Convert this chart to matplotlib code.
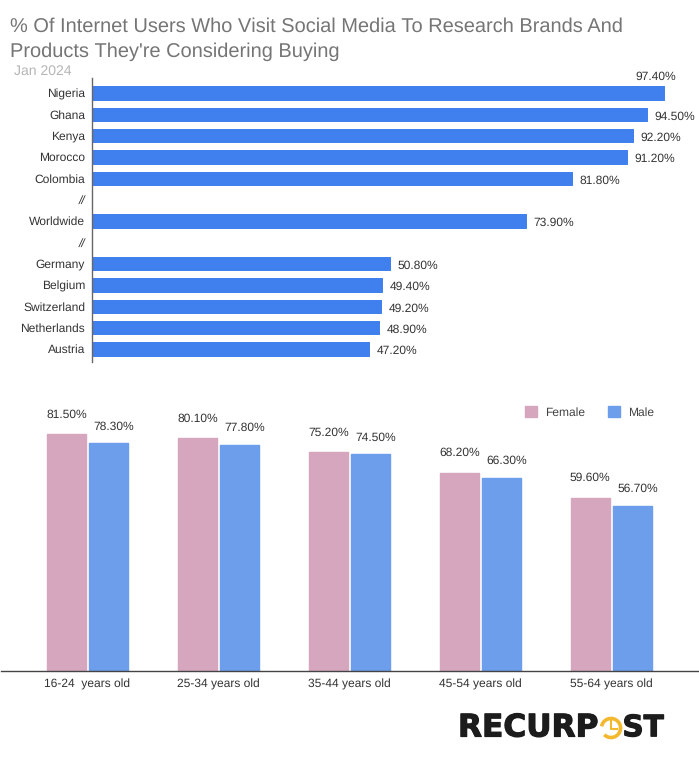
import matplotlib
matplotlib.use("Agg")
import matplotlib.pyplot as plt
from matplotlib.patches import Arc
import matplotlib.patheffects as pe

plt.rcParams['font.family'] = ['Liberation Sans', 'DejaVu Sans']
plt.rcParams['text.hinting'] = 'no_hinting'
plt.rcParams['text.hinting_factor'] = 1

TITLE = "% Of Internet Users Who Visit Social Media To Research Brands And\nProducts They're Considering Buying"
SUBTITLE = "Jan 2024"
countries = ["Nigeria", "Ghana", "Kenya", "Morocco", "Colombia", "//", "Worldwide", "//",
             "Germany", "Belgium", "Switzerland", "Netherlands", "Austria"]
country_values = [97.4, 94.5, 92.2, 91.2, 81.8, None, 73.9, None, 50.8, 49.4, 49.2, 48.9, 47.2]
age_groups = ["16-24  years old", "25-34 years old", "35-44 years old", "45-54 years old", "55-64 years old"]
female = [81.5, 80.1, 75.2, 68.2, 59.6]
male = [78.3, 77.8, 74.5, 66.3, 56.7]

W, H = 699, 768
PX = 0.72
LABEL = 12.05 * PX
fig = plt.figure(figsize=(W / 100, H / 100), dpi=100, facecolor='white')

def box(l, t, r, b):
    return [l / W, 1 - b / H, (r - l) / W, (b - t) / H]

title_lines = TITLE.split("\n")
fig.text(10 / W, 1 - 27 / H, title_lines[0], fontsize=20.3 * PX, color='#757575', va='center', ha='left')
fig.text(10 / W, 1 - 52 / H, title_lines[1], fontsize=20.3 * PX, color='#757575', va='center', ha='left')
fig.text(14 / W, 1 - 71.5 / H, SUBTITLE, fontsize=14.2 * PX, color='#b5b5b5', va='center', ha='left')

# Country chart
ax = fig.add_axes(box(92, 78, 699, 362))
ax.set_xlim(0, 607 / 5.87)
ax.set_ylim(12.61, -0.703)
ys = list(range(len(countries)))
for y, v in zip(ys, country_values):
    if v is None:
        continue
    ax.barh(y, v, height=0.62, color='#3f80ee', edgecolor='#3f80ee', linewidth=0.7, joinstyle='round')
    if v > 95:
        off, va_off = (-28.5, 16)
    else:
        off, va_off = (7.5, -2)
    ax.annotate(f"{v:.2f}%", (v, y), xytext=(off * PX, va_off * PX), textcoords='offset points',
                ha='left', va='center', fontsize=LABEL, color='#333333', annotation_clip=False)
ax.set_yticks(ys)
ax.set_yticklabels(countries, fontsize=LABEL, color='#333333')
for lbl, name in zip(ax.get_yticklabels(), countries):
    if name == "//":
        lbl.set_fontstyle('italic')
ax.tick_params(axis='y', length=0, pad=5)
ax.set_xticks([])
for s in ['top', 'right', 'bottom']:
    ax.spines[s].set_visible(False)
ax.spines['left'].set_color('#666666')
ax.spines['left'].set_linewidth(1)

# Age chart
bx = fig.add_axes(box(1, 395, 699, 670.5))
bx.set_xlim(-0.659, 4.669)
bx.set_ylim(0, 275.5 / 2.9)
xs = list(range(len(age_groups)))
BW, OFF = 38.5 / 131, 21 / 131
f_pos = [x - OFF for x in xs]
m_pos = [x + OFF for x in xs]
bx.bar(f_pos, female, width=BW, color='#d5a6bd', edgecolor='#d5a6bd', linewidth=1, joinstyle='round', label='Female')
bx.bar(m_pos, male, width=BW, color='#6d9eeb', edgecolor='#6d9eeb', linewidth=1, joinstyle='round', label='Male')
for x, v in zip(f_pos, female):
    bx.annotate(f"{v:.2f}%", (x, v), xytext=(0, 19.5 * PX), textcoords='offset points', ha='center', va='center',
                fontsize=LABEL, color='#333333')
for x, v in zip(m_pos, male):
    bx.annotate(f"{v:.2f}%", (x, v), xytext=(5.5 * PX, 17 * PX), textcoords='offset points', ha='center', va='center',
                fontsize=LABEL, color='#333333')
bx.set_xticks(xs)
bx.set_xticklabels(age_groups, fontsize=LABEL, color='#333333')
bx.tick_params(axis='x', length=0, pad=6)
bx.set_yticks([])
for s in ['top', 'right', 'left']:
    bx.spines[s].set_visible(False)
bx.spines['bottom'].set_color('#444444')
bx.spines['bottom'].set_linewidth(1)
bx.legend(loc='center left', bbox_to_anchor=(525 / W, 1 - 412 / H), bbox_transform=fig.transFigure,
          ncol=2, frameon=False, fontsize=LABEL, labelcolor='#444444', handlelength=1.0, handleheight=1.0,
          handletextpad=0.62, columnspacing=1.95, borderpad=0, borderaxespad=0)

# Logo
lg = fig.add_axes([0, 0, 1, 1], facecolor='none')
lg.set_xlim(0, W)
lg.set_ylim(H, 0)
lg.axis('off')
heavy = [pe.withStroke(linewidth=0.8, foreground='#1c1c1c')]
logo_style = dict(fontweight='bold', color='#1c1c1c', family='DejaVu Sans', va='center', path_effects=heavy)
lg.text(458, 728, "RECURP", ha='left', fontsize=31.2 * PX, **logo_style)
lg.text(664.5, 728, "ST", ha='right', fontsize=29.5 * PX, **logo_style)
gold = '#f4b82e'
lg.add_patch(Arc((611, 728), 19, 19, theta1=-170, theta2=135, color=gold, lw=2.6))
lg.plot([611, 611, 617], [721, 729, 729], color=gold, lw=1.5)

fig.savefig("out.png", dpi=100, facecolor='white')
